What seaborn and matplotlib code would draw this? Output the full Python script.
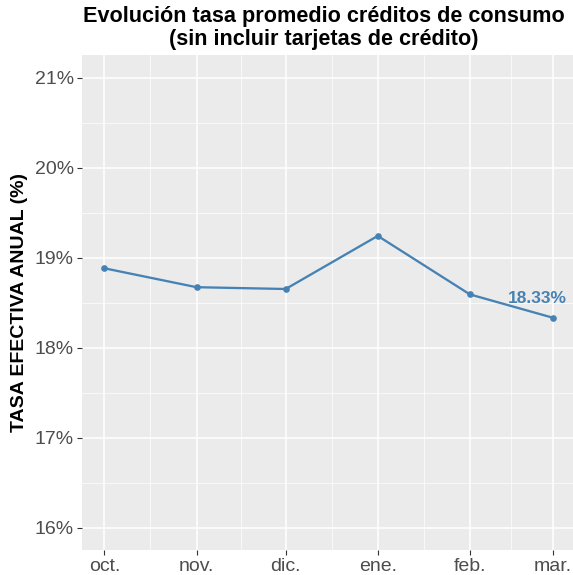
import matplotlib
matplotlib.use("Agg")
from matplotlib import pyplot as plt
import matplotlib.dates as mdates
from matplotlib.ticker import FixedLocator, FuncFormatter
import pandas as pd
import seaborn as sns

# data
months = ['2018-10-01', '2018-11-01', '2018-12-01', '2019-01-01', '2019-02-01', '2019-03-01']
month_labels = ['oct.', 'nov.', 'dic.', 'ene.', 'feb.', 'mar.']
rates = [18.88, 18.67, 18.65, 19.24, 18.59, 18.33]
y_ticks = [16, 17, 18, 19, 20, 21]

title = 'Evolución tasa promedio créditos de consumo\n(sin incluir tarjetas de crédito)'
ylabel = 'TASA EFECTIVA ANUAL (%)'
line_color = '#4682B4'

df = pd.DataFrame({'mes': pd.to_datetime(months), 'tasa': rates})

sns.set_style("darkgrid", {'axes.facecolor': '#EBEBEB', 'grid.color': 'white'})
plt.rcParams['font.family'] = ['Liberation Sans', 'DejaVu Sans']

fig = plt.figure(figsize=(5.73, 5.75), dpi=100)
ax = fig.add_axes([82 / 573, 1 - 550 / 575, 493.5 / 573, 495 / 575])

sns.lineplot(ax=ax, data=df, x='mes', y='tasa', color=line_color, linewidth=1.65,
             marker='o', markersize=4.8, markeredgewidth=0)

# label on the last point
ax.annotate(f'{rates[-1]:.2f}%', xy=(df['mes'].iloc[-1], rates[-1]),
            xytext=(-11.5, 14), textcoords='offset points', ha='center', va='center',
            color=line_color, fontsize=12.5, fontweight='bold')

# ggplot-like expansion of 5 % on both axes
xnum = mdates.date2num(df['mes'])
xr = xnum[-1] - xnum[0]
ax.set_xlim(xnum[0] - 0.05 * xr, xnum[-1] + 0.05 * xr)
yr = y_ticks[-1] - y_ticks[0]
ax.set_ylim(y_ticks[0] - 0.05 * yr, y_ticks[-1] + 0.05 * yr)

ax.xaxis.set_major_locator(FixedLocator(xnum))
ax.set_xticklabels(month_labels)
ax.xaxis.set_minor_locator(FixedLocator((xnum[:-1] + xnum[1:]) / 2))
ax.yaxis.set_major_locator(FixedLocator(y_ticks))
ax.yaxis.set_major_formatter(FuncFormatter(lambda v, p: f'{v:.0f}%'))
ax.yaxis.set_minor_locator(FixedLocator([v + 0.5 for v in y_ticks[:-1]]))

ax.grid(which='major', color='white', linewidth=1.1)
ax.grid(which='minor', color='white', linewidth=0.5)
for s in ax.spines.values():
    s.set_visible(False)

ax.tick_params(which='major', length=3.8, width=0.8, color='#333333', labelcolor='#4D4D4D',
               labelsize=14, pad=2, bottom=True, left=True)
ax.tick_params(which='minor', length=0)

ax.set_xlabel(None)
ax.set_ylabel(ylabel, fontsize=14, fontweight='bold', color='black', labelpad=5)

fig.text(323.5 / 573, 1 - 6 / 575, title, ha='center', va='top',
         fontsize=15.6, fontweight='bold', color='black', linespacing=1.1)

fig.savefig('out.png', dpi=100)
